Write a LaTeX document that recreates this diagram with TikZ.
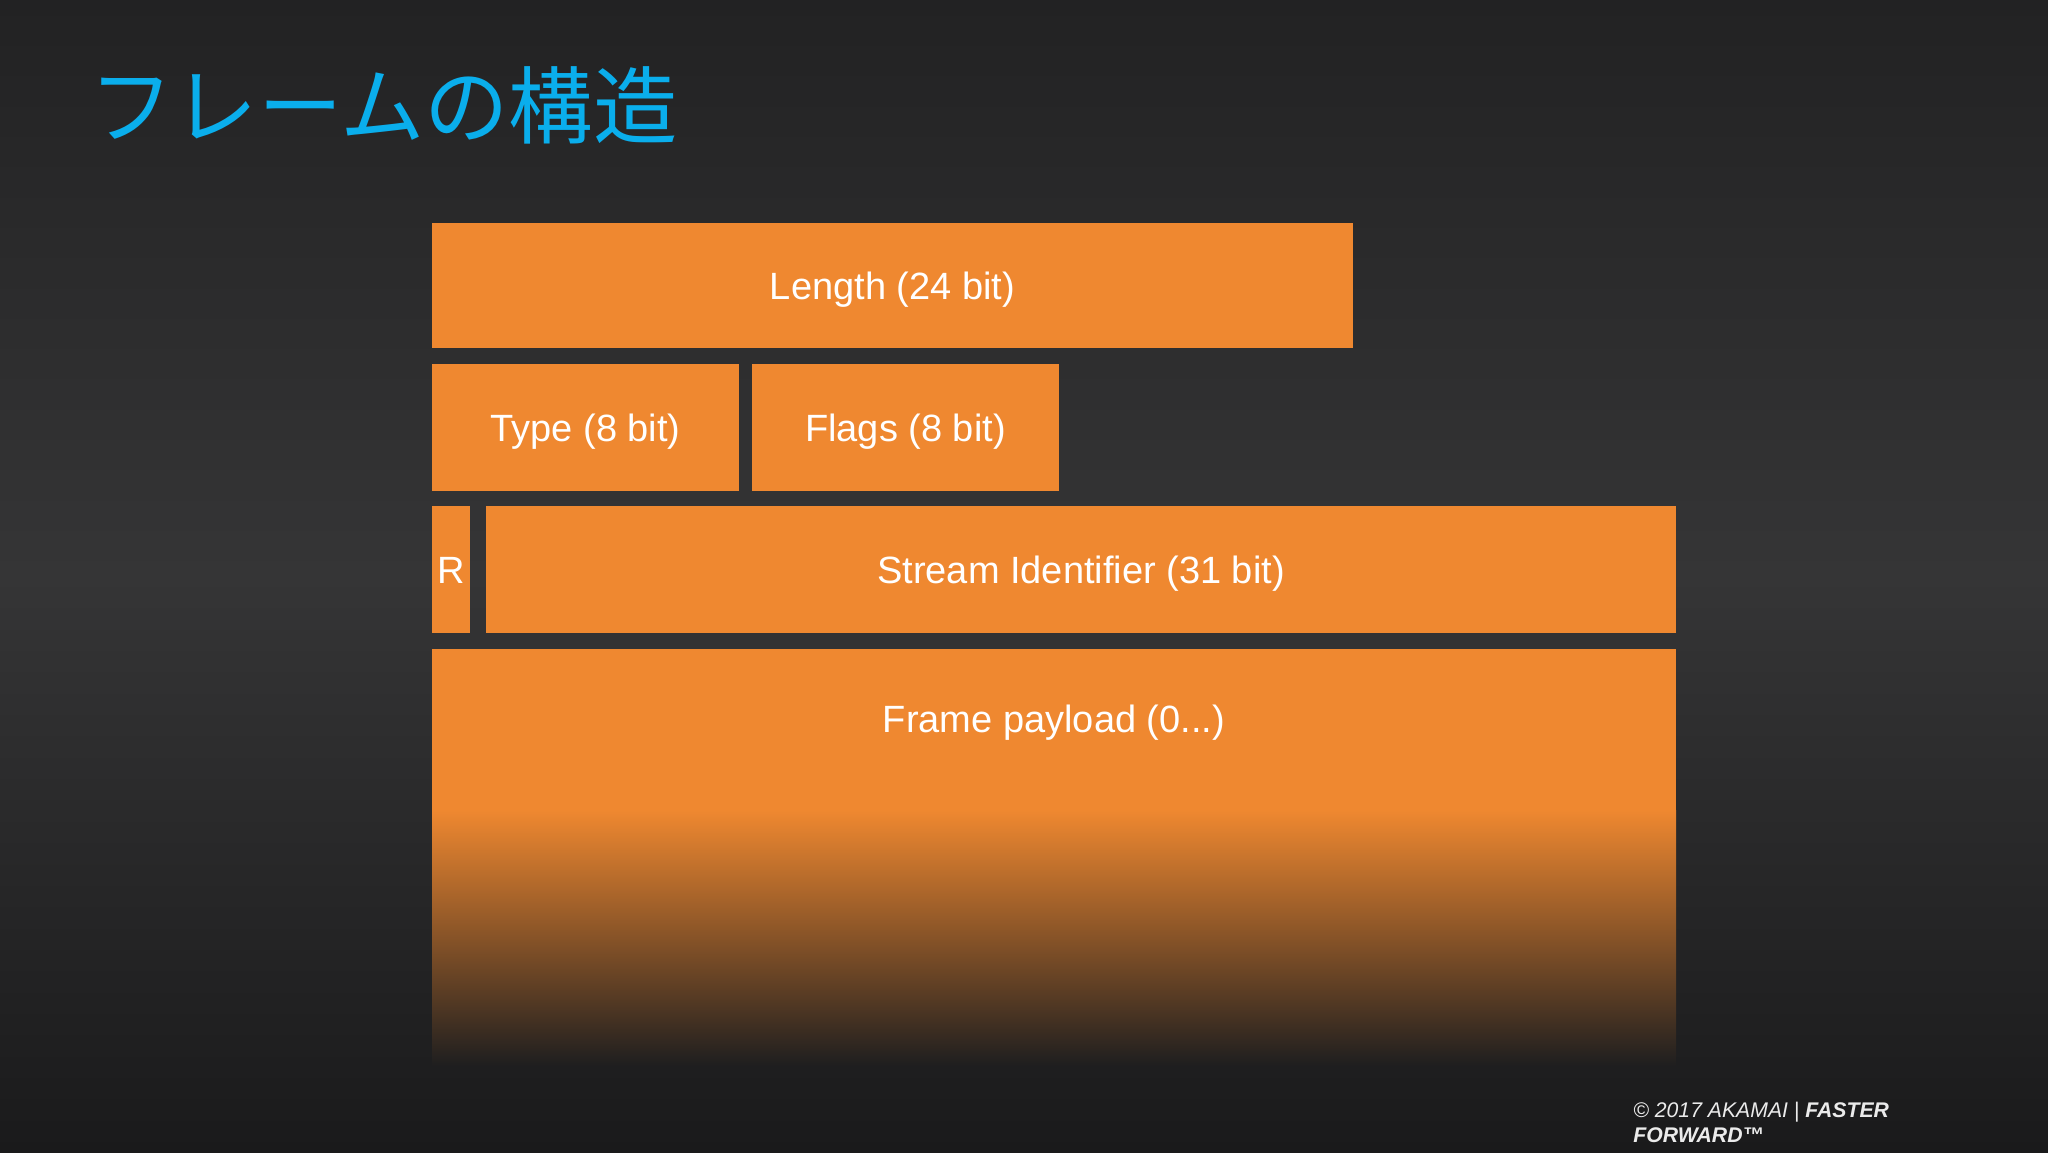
\documentclass[tikz,border=0pt]{standalone}
\usepackage{fontspec}
\setmainfont{Liberation Sans}
\newfontfamily\cjk{Noto Sans CJK JP}
\definecolor{frameorange}{RGB}{239,136,48}
\definecolor{titlecyan}{RGB}{10,174,236}
\definecolor{bgtop}{RGB}{34,34,35}
\definecolor{bgmid}{RGB}{53,53,54}
\definecolor{bgbot}{RGB}{26,26,27}
\definecolor{fadeend}{RGB}{30,30,31}
\pgfdeclareverticalshading{bgshade}{100bp}{color(0bp)=(bgbot); color(25bp)=(bgbot); color(50bp)=(bgmid); color(75bp)=(bgtop); color(100bp)=(bgtop)}
\tikzset{
  fieldfill/.style={fill=frameorange, draw=none},
  fieldlabel/.style={text=white, font=\fontsize{19}{22}\selectfont, inner sep=0pt, text height=0.72em, text depth=0pt, anchor=center},
  footlabel/.style={text=white!92!black, font=\fontsize{10.6}{12.5}\selectfont\itshape, inner sep=0pt, anchor=base west}
}
\begin{document}
\begin{tikzpicture}[x=0.5pt,y=-0.5pt]
\useasboundingbox (0,0) rectangle (2048,1152);
\shade[shading=bgshade] (0,0) rectangle (2048,1152);

% title
\node[anchor=base west, inner sep=0pt, text=titlecyan, font=\cjk\fontsize{42.2}{48}\selectfont] (title) at (89,137) {フレームの構造};

% fields
\fill[fieldfill] (432,223) rectangle (1353,348);
\node[fieldlabel] (length) at (892.5,292.5) {Length (24 bit)};

\fill[fieldfill] (432,364) rectangle (739,491);
\node[fieldlabel] (type) at (585.5,434.5) {Type (8 bit)};

\fill[fieldfill] (752,364) rectangle (1059,491);
\node[fieldlabel] (flags) at (905.5,434.5) {Flags (8 bit)};

\fill[fieldfill] (432,506) rectangle (470,633);
\node[fieldlabel] (r) at (451,576.5) {R};

\fill[fieldfill] (486,506) rectangle (1676,633);
\node[fieldlabel] (stream) at (1081,576.5) {Stream Identifier (31 bit)};

\fill[fieldfill] (432,649) rectangle (1676,811);
\shade[top color=frameorange, bottom color=fadeend] (432,810) rectangle (1676,1066);
\node[fieldlabel] (payload) at (1054,725.5) {Frame payload (0...)};

% footer
\node[footlabel] (foot1) at (1633,1117) {© 2017 AKAMAI | \textbf{FASTER}};
\node[footlabel] (foot2) at (1633,1142) {\textbf{FORWARD™}};
\end{tikzpicture}
\end{document}
